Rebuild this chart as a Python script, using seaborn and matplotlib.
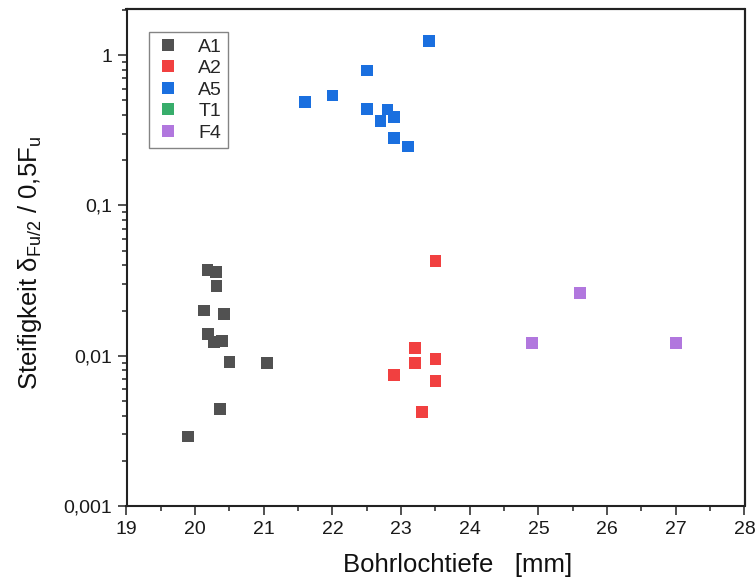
import matplotlib
matplotlib.use("Agg")
import matplotlib.pyplot as plt
import matplotlib.ticker as mticker
from matplotlib.lines import Line2D
import seaborn as sns
import pandas as pd
import numpy as np

# ---- data ----
series = ["A1", "A2", "A5", "T1", "F4"]
colors = ["#515151", "#F14040", "#1A6FDF", "#37AD6B", "#B177DE"]

a1_x = [20.18, 20.30, 20.31, 20.13, 20.42, 20.19, 20.27, 20.39, 20.50, 21.05, 20.36, 19.89]
a1_y = [0.037, 0.036, 0.029, 0.020, 0.019, 0.014, 0.0124, 0.0125, 0.0091, 0.0090, 0.0044, 0.0029]

a2_x = [23.5, 23.2, 23.5, 23.2, 22.9, 23.5, 23.3]
a2_y = [0.0427, 0.0113, 0.0095, 0.0089, 0.0074, 0.0068, 0.0042]

a5_x = [23.4, 22.5, 22.0, 21.6, 22.5, 22.8, 22.9, 22.7, 22.9, 23.1]
a5_y = [1.25, 0.79, 0.54, 0.49, 0.44, 0.435, 0.387, 0.365, 0.28, 0.247]

t1_x = []
t1_y = []

f4_x = [25.6, 24.9, 27.0]
f4_y = [0.026, 0.0122, 0.0121]

x_ticks = [19, 20, 21, 22, 23, 24, 25, 26, 27, 28]
y_ticks = [0.001, 0.01, 0.1, 1]
y_tick_labels = ["0,001", "0,01", "0,1", "1"]

xs = [a1_x, a2_x, a5_x, t1_x, f4_x]
ys = [a1_y, a2_y, a5_y, t1_y, f4_y]
rows = []
for name, xv, yv in zip(series, xs, ys):
    for a, b in zip(xv, yv):
        rows.append({"x": a, "y": b, "Serie": name})
df = pd.DataFrame(rows)
df["Serie"] = pd.Categorical(df["Serie"], categories=series)

# ---- plot ----
sns.set_theme(style="ticks")
plt.rcParams["font.family"] = ["Liberation Sans", "DejaVu Sans"]
plt.rcParams["mathtext.default"] = "regular"
plt.rcParams["axes.spines.top"] = True
plt.rcParams["axes.spines.right"] = True

fig = plt.figure(figsize=(7.56, 5.85), dpi=100)
ax = fig.add_axes([126.5 / 756, 1 - 506 / 585, (744.5 - 126.5) / 756, (506 - 9) / 585])

sns.scatterplot(data=df, x="x", y="y", hue="Serie", hue_order=series,
                palette=dict(zip(series, colors)), marker="s", s=72,
                linewidth=0, ax=ax, legend=True)

ax.set_yscale("log")
ax.set_xlim(19, 28)
ax.set_ylim(0.001, 2.03)
ax.set_xticks(x_ticks)
ax.xaxis.set_minor_locator(mticker.MultipleLocator(0.5))
ax.set_yticks(y_ticks)
ax.set_yticklabels(y_tick_labels)
ax.yaxis.set_minor_locator(mticker.LogLocator(base=10, subs=np.arange(2, 10)))
ax.yaxis.set_minor_formatter(mticker.NullFormatter())

for sp in ax.spines.values():
    sp.set_visible(True)
    sp.set_color("#222222")
    sp.set_linewidth(1.5)

# explicit top and right frame lines (drawn in axes coordinates)
ax.add_line(Line2D([0, 1], [1, 1], transform=ax.transAxes, color="#222222",
                   linewidth=1.5, clip_on=False, zorder=6))
ax.add_line(Line2D([1, 1], [0, 1], transform=ax.transAxes, color="#222222",
                   linewidth=1.5, clip_on=False, zorder=6))

ax.tick_params(axis="both", which="major", direction="out", length=6.5, width=1.1,
               labelsize=14, color="#222222", labelcolor="#1a1a1a", pad=4,
               bottom=True, left=True, top=False, right=False)
ax.tick_params(axis="both", which="minor", direction="out", length=3.5, width=1.1,
               color="#222222", bottom=True, left=True, top=False, right=False)

ax.set_xlabel("Bohrlochtiefe   [mm]", fontsize=18.5, color="#111111")
ax.set_ylabel("Steifigkeit δ$_{Fu/2}$ / 0,5F$_{u}$", fontsize=18.5, color="#111111")
ax.xaxis.set_label_coords(0.535, -0.095)
ax.yaxis.set_label_coords(-0.133, 0.49)

handles, labels = ax.get_legend_handles_labels()
leg = ax.legend(handles, labels, loc="upper left", bbox_to_anchor=(0.036, 0.953),
                frameon=True, fancybox=False, edgecolor="#666666", fontsize=14,
                handletextpad=0.85, labelspacing=0.2, borderpad=0.3,
                handlelength=1.4, markerscale=1.0, borderaxespad=0)
leg.get_frame().set_linewidth(1.0)

fig.savefig("out.png", dpi=100)
